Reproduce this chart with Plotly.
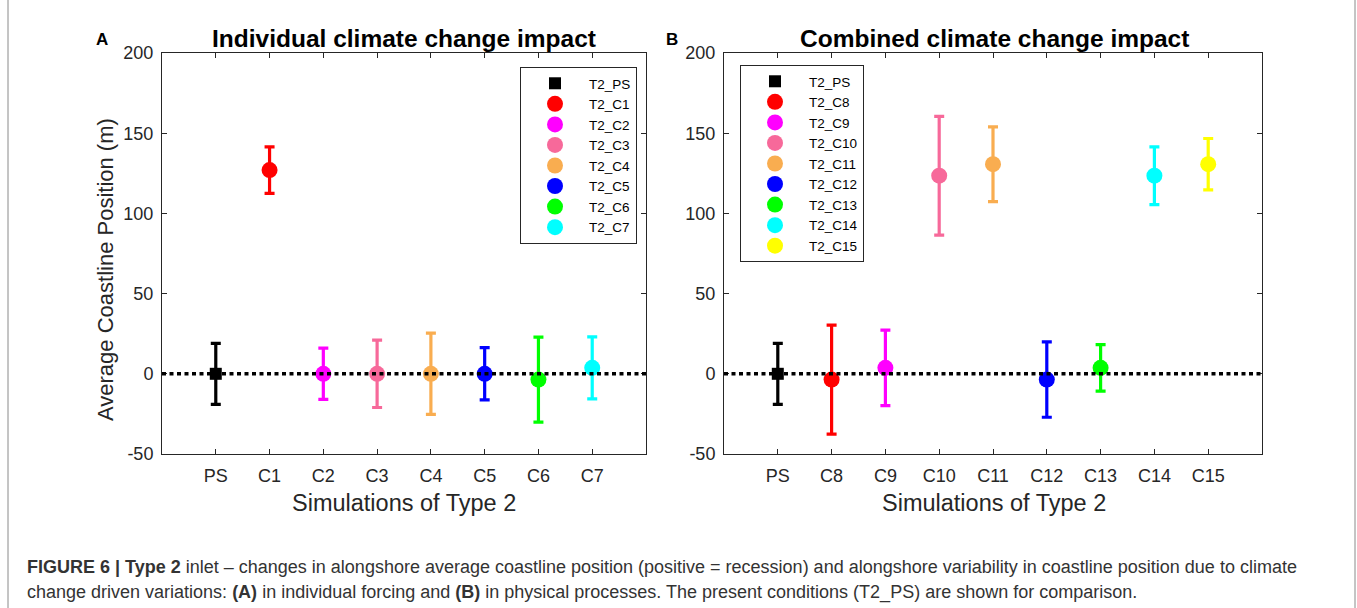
import plotly.graph_objects as go

W, H = 1357, 608

# ---------------- data ----------------
cats_a = ["PS", "C1", "C2", "C3", "C4", "C5", "C6", "C7"]
names_a = ["T2_PS", "T2_C1", "T2_C2", "T2_C3", "T2_C4", "T2_C5", "T2_C6", "T2_C7"]
mean_a = [0, 127, 0, 0, 0, 0, -3.6, 3.7]
err_a = [19, 14.5, 16, 21, 25.3, 16.3, 26.5, 19.3]

cats_b = ["PS", "C8", "C9", "C10", "C11", "C12", "C13", "C14", "C15"]
names_b = ["T2_PS", "T2_C8", "T2_C9", "T2_C10", "T2_C11", "T2_C12", "T2_C13", "T2_C14", "T2_C15"]
mean_b = [0, -3.6, 3.7, 123.5, 130.7, -3.6, 3.7, 123.5, 130.7]
err_b = [19, 34, 23.5, 37, 23.3, 23.5, 14.5, 18, 16]

colors_a = ["#000000", "#FF0000", "#FF00FF", "#F7699A", "#F9AD50", "#0000FF", "#00FF00", "#00FFFF"]
colors_b = ["#000000", "#FF0000", "#FF00FF", "#F7699A", "#F9AD50", "#0000FF", "#00FF00", "#00FFFF", "#FFFF00"]

yticks = [-50, 0, 50, 100, 150, 200]
yticklabels = ["-50", "0", "50", "100", "150", "200"]

title_a = "Individual climate change impact"
title_b = "Combined climate change impact"
xlabel = "Simulations of Type 2"
ylabel = "Average Coastline Position (m)"
caption1 = ("<b>FIGURE 6 | Type 2</b> inlet \u2013 changes in alongshore average coastline position "
            "(positive = recession) and alongshore variability in coastline position due to climate")
caption2 = ("change driven variations: <b>(A)</b> in individual forcing and <b>(B)</b> in physical "
            "processes. The present conditions (T2_PS) are shown for comparison.")

# ---------------- figure ----------------
fig = go.Figure()

def add_panel(cats, names, means, errs, colors, xa, ya, leg):
    for i, (c, n, m, e, col) in enumerate(zip(cats, names, means, errs, colors)):
        fig.add_trace(go.Scatter(
            x=[c], y=[m], name=n, mode="markers",
            marker=dict(color=col, size=12 if i == 0 else 16,
                        symbol="square" if i == 0 else "circle", line=dict(width=0)),
            error_y=dict(type="data", array=[e], color=col, thickness=3.2, width=5),
            xaxis=xa, yaxis=ya, legend=leg,
        ))

add_panel(cats_a, names_a, mean_a, err_a, colors_a, "x", "y", "legend")
add_panel(cats_b, names_b, mean_b, err_b, colors_b, "x2", "y2", "legend2")

def px(x):
    return x / W

def py(y):
    return 1 - y / H

font_main = "Liberation Sans, Arial, sans-serif"
axcol = "#262626"
tickfont = dict(family=font_main, size=18, color=axcol)
common_x = dict(type="category", showline=True, mirror="ticks", linecolor=axcol, linewidth=1,
                ticks="inside", ticklen=5, tickcolor=axcol, tickfont=tickfont,
                showgrid=False, zeroline=False, ticklabelstandoff=5, automargin=False)
common_y = dict(range=[-50, 200], tickvals=yticks, ticktext=yticklabels, showline=True,
                mirror="ticks", linecolor=axcol, linewidth=1, ticks="inside", ticklen=5,
                tickcolor=axcol, tickfont=tickfont, showgrid=False, zeroline=False,
                ticklabelstandoff=4, domain=[py(454), py(53)], automargin=False)

legfont = dict(family=font_main, size=13.5, color="#000")
fig.update_layout(
    width=W, height=H, margin=dict(l=0, r=0, t=0, b=0, pad=0, autoexpand=False),
    paper_bgcolor="white", plot_bgcolor="white",
    xaxis=dict(common_x, domain=[px(162), px(646)], categoryorder="array",
               categoryarray=cats_a, range=[-1, 8], anchor="y"),
    yaxis=dict(common_y, anchor="x"),
    xaxis2=dict(common_x, domain=[px(724), px(1262)], categoryorder="array",
                categoryarray=cats_b, range=[-1, 9], anchor="y2"),
    yaxis2=dict(common_y, anchor="x2"),
    legend=dict(x=px(637), y=py(67), xanchor="right", yanchor="top",
                bgcolor="white", bordercolor=axcol, borderwidth=1,
                font=legfont, itemwidth=58, tracegroupgap=0),
    legend2=dict(x=px(740), y=py(65), xanchor="left", yanchor="top",
                 bgcolor="white", bordercolor=axcol, borderwidth=1,
                 font=legfont, itemwidth=58, tracegroupgap=0),
    showlegend=True,
)

# zero reference dotted lines
for xr, yr in (("x domain", "y"), ("x2 domain", "y2")):
    fig.add_shape(type="line", xref=xr, yref=yr, x0=0, x1=1, y0=0, y1=0,
                  line=dict(color="black", width=3.5, dash="4px,3.5px"), layer="above")

# outer frame lines
for xx in (8, 1355):
    fig.add_shape(type="line", xref="paper", yref="paper", x0=px(xx), x1=px(xx), y0=0, y1=1,
                  line=dict(color="#8a8a8a", width=1))

ann = []
ann.append(dict(text="<b>" + title_a + "</b>", x=px(404), y=py(38), font=dict(size=24.5, color="#000")))
ann.append(dict(text="<b>" + title_b + "</b>", x=px(994), y=py(38), font=dict(size=24.5, color="#000")))
ann.append(dict(text="<b>A</b>", x=px(102), y=py(40), font=dict(size=17, color="#000")))
ann.append(dict(text="<b>B</b>", x=px(672), y=py(40), font=dict(size=17, color="#000")))
ann.append(dict(text=xlabel, x=px(404), y=py(503), font=dict(size=23.5, color=axcol)))
ann.append(dict(text=xlabel, x=px(994), y=py(503), font=dict(size=23.5, color=axcol)))
ann.append(dict(text=ylabel, x=px(105), y=py(270), textangle=-90, font=dict(size=22, color=axcol)))
for a in ann:
    a.update(xref="paper", yref="paper", showarrow=False, xanchor="center", yanchor="middle")
    a["font"]["family"] = font_main
    fig.add_annotation(**a)

for txt, yy in ((caption1, 567), (caption2, 592)):
    fig.add_annotation(text=txt, xref="paper", yref="paper", x=px(25), y=py(yy),
                       xanchor="left", yanchor="middle", showarrow=False,
                       font=dict(family=font_main, size=18, color="#333333"))

post = ("document.documentElement.style.margin='0';document.body.style.margin='0';"
        "document.documentElement.style.overflow='hidden';document.body.style.overflow='hidden';"
        "var d=document.getElementById('{plot_id}');d.style.position='fixed';"
        "d.style.left='0px';d.style.top='0px';")
fig.write_html("out.html", config={"displayModeBar": False}, post_script=post)
